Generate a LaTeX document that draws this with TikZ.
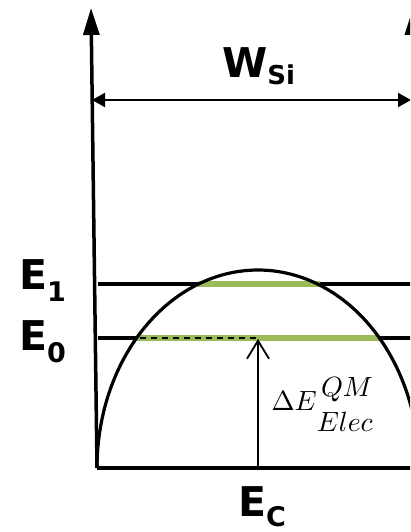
\documentclass[tikz,border=0pt]{standalone}
\usepackage[no-math]{fontspec}
\setmainfont{DejaVu Sans}
\usetikzlibrary{arrows.meta}
\definecolor{levelgreen}{HTML}{9BBB59}
\newcommand{\bigb}{\fontsize{41}{41}\selectfont\bfseries}
\newcommand{\smallb}{\fontsize{27}{27}\selectfont\bfseries}
\begin{document}
\begin{tikzpicture}[x=1pt,y=-1pt,
  axis/.style={line width=3.5pt},
  lvl/.style={line width=3.2pt},
  grn/.style={line width=6pt, draw=levelgreen},
  lbl/.style={inner sep=0pt, anchor=base west},
  bigtip/.style={-{Triangle[length=27pt,width=16pt]}},
  wtip/.style={{Triangle[length=13pt,width=14pt]}-{Triangle[length=13pt,width=14pt]}},
]
\useasboundingbox (0,0) rectangle (410,532);
\clip (0,0) rectangle (410,532);
\fill[white] (0,0) rectangle (410,532);
% coordinates
\coordinate (yb) at (97,468);
\coordinate (yt) at (91,8);
\coordinate (rb) at (413,468);
\coordinate (rt) at (413,8);
\coordinate (bl) at (97,468);
\coordinate (br) at (430,468);
\coordinate (wl) at (92,100);
\coordinate (wr) at (411,100);
\coordinate (e1l) at (98,284);
\coordinate (e1r) at (430,284);
\coordinate (e0l) at (98,338);
\coordinate (e0r) at (430,338);
\coordinate (g1l) at (198,284);
\coordinate (g1r) at (320,284);
\coordinate (g0l) at (137,338);
\coordinate (g0r) at (380,338);
\coordinate (dl) at (140,338);
\coordinate (dr) at (256,338);
\coordinate (ab) at (258,468);
\coordinate (at) at (258,339);
% energy levels
\draw[lvl] (e1l) -- (e1r);
\draw[lvl] (e0l) -- (e0r);
\draw[grn] (g1l) -- (g1r);
\draw[grn] (g0l) -- (g0r);
\draw[line width=1.8pt, dash pattern=on 6pt off 5pt] (dl) -- (dr);
% well shape
\draw[line width=3.2pt] plot[domain=180:0, samples=90, smooth] ({258+161*cos(\x)},{468-198*sin(\x)});
% axes
\draw[axis, bigtip] (yb) -- (yt);
\draw[axis, bigtip] (rb) -- (rt);
\draw[axis] (bl) -- (br);
\draw[line width=2pt, wtip] (wl) -- (wr);
\draw[line width=1.8pt, -{Straight Barb[length=18pt,width=22pt]}] (ab) -- (at);
% labels
\node[lbl] (wsi) at (222,78) {\bigb W\raisebox{-7pt}{\fontsize{26}{26}\selectfont\bfseries Si}};
\node[lbl] (e1) at (19,289) {\bigb E\raisebox{-12pt}{\smallb 1}};
\node[lbl] (e0) at (19,350) {\bigb E\raisebox{-12pt}{\smallb 0}};
\node[lbl] (ec) at (238,516) {\bigb E\raisebox{-10pt}{\smallb C}};
\node[lbl, scale=2.78] (de) at (271,410) {\normalsize$\Delta E$\rlap{\raisebox{4.7pt}{\hspace{1.5pt}$QM$}}\raisebox{-7.9pt}{$Elec$}};
\end{tikzpicture}
\end{document}
